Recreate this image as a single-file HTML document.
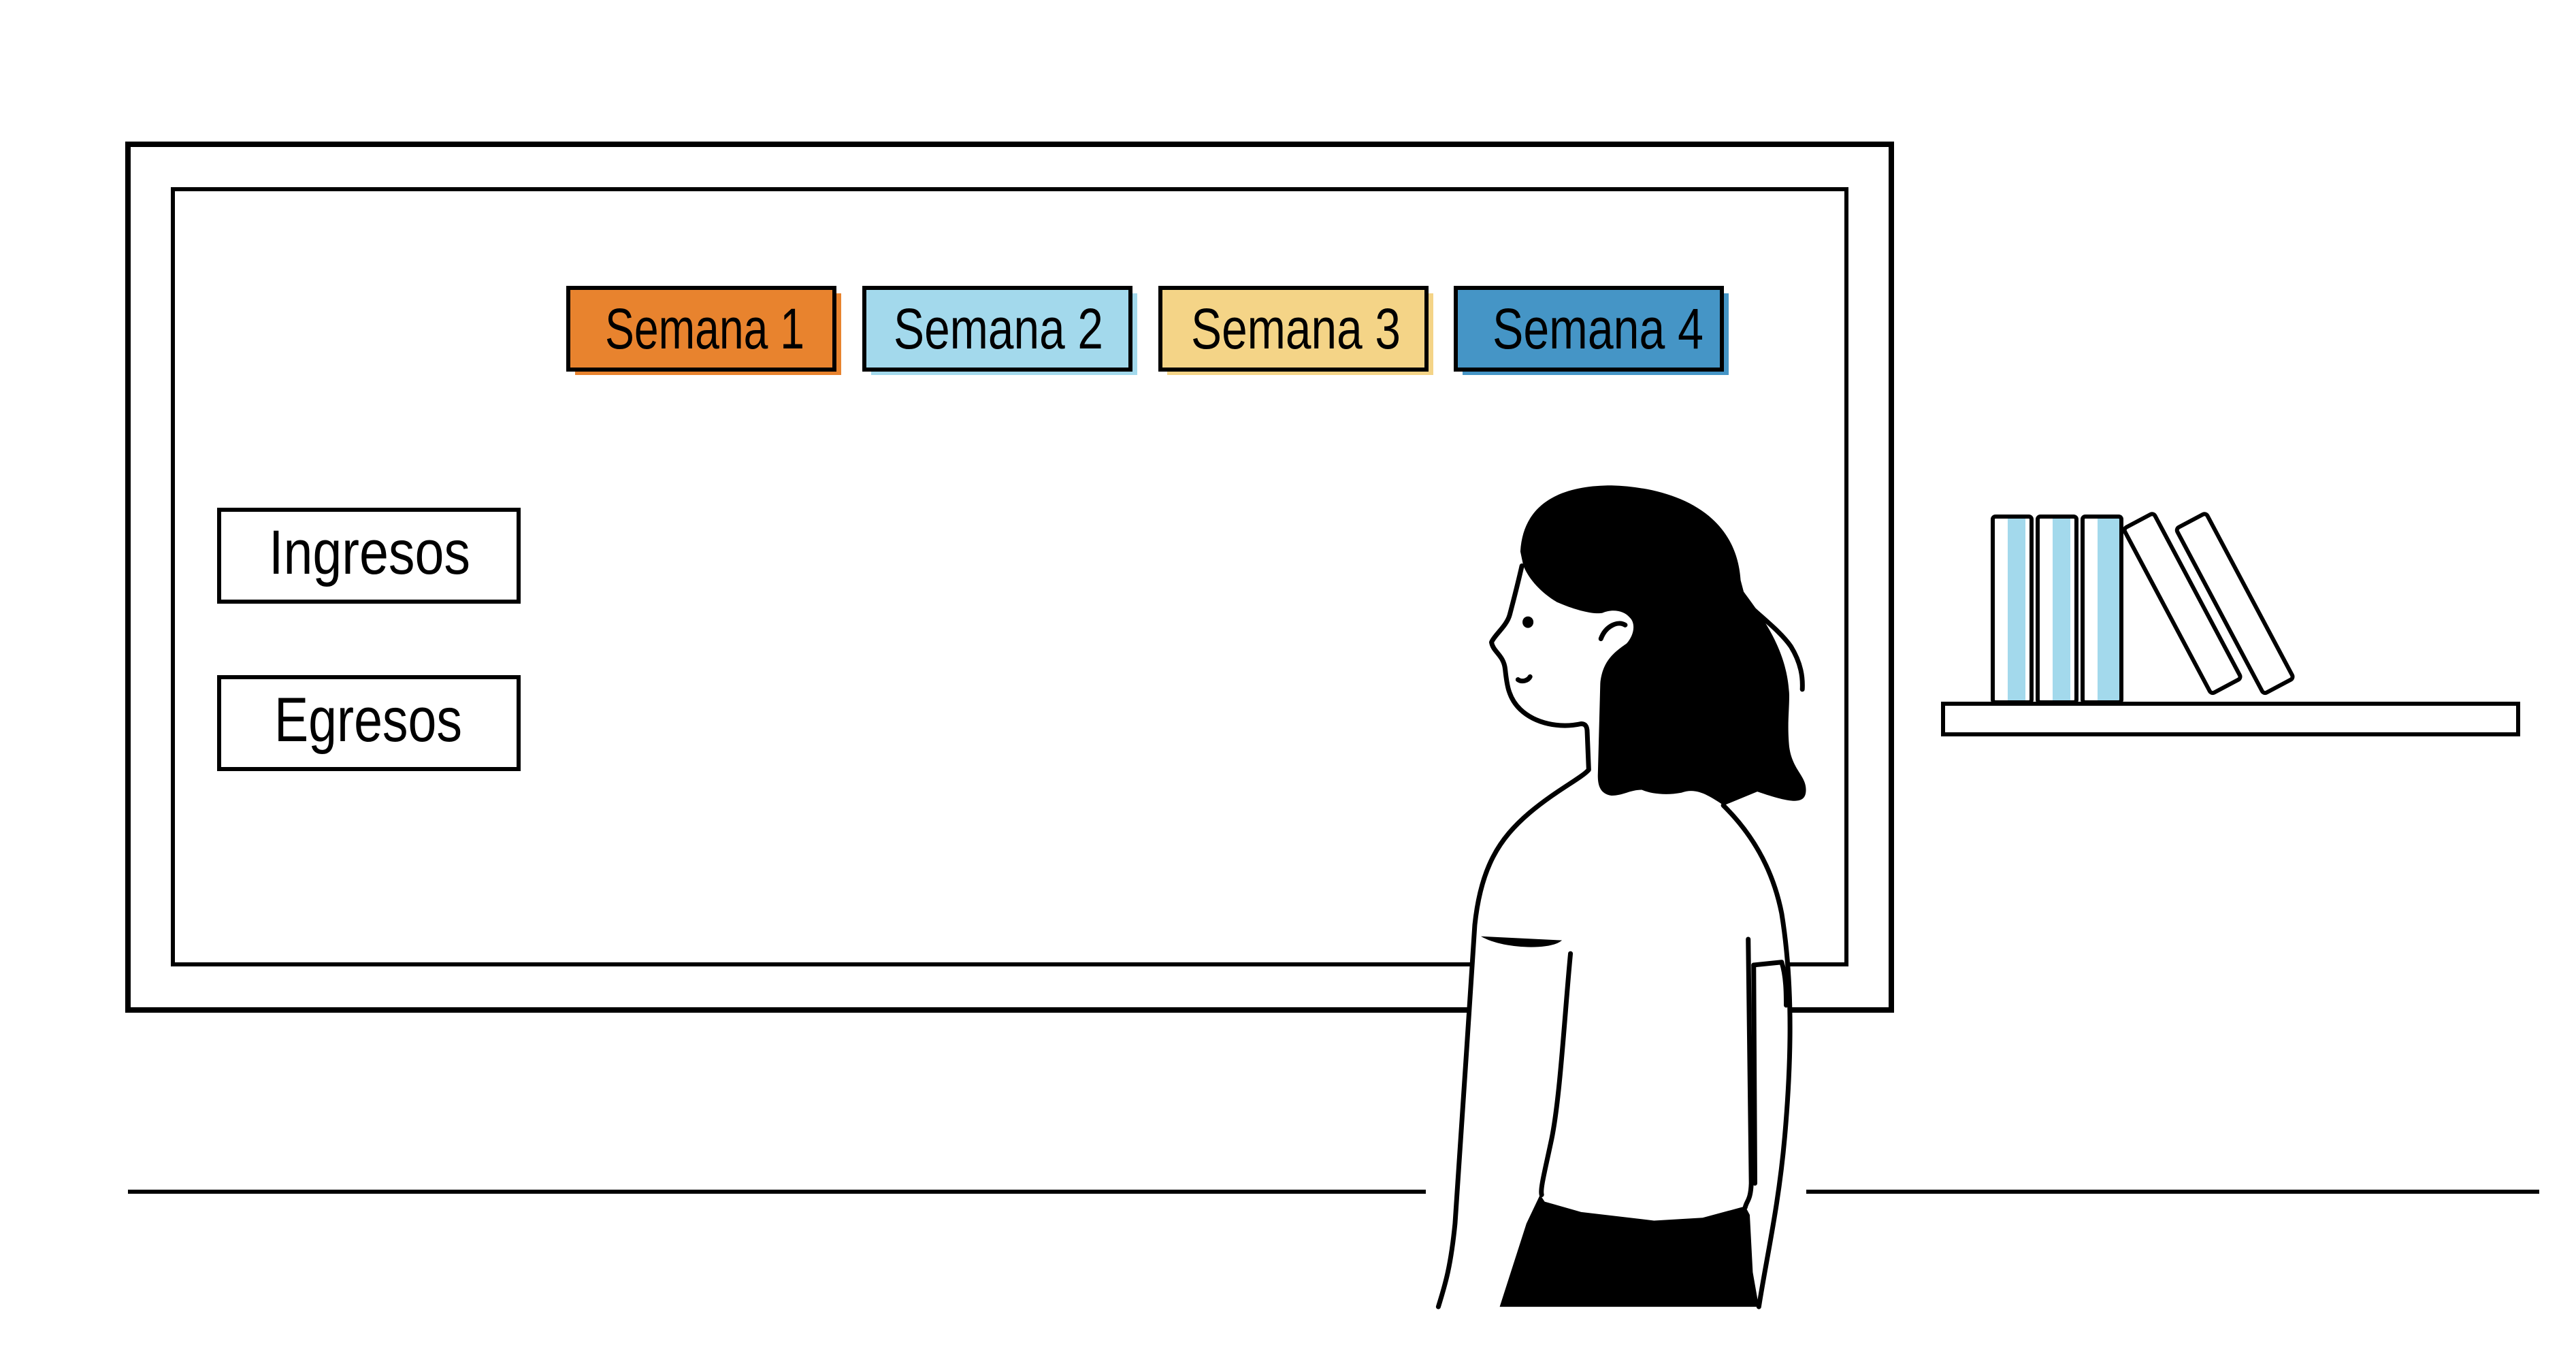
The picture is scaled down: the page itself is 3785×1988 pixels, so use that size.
<!DOCTYPE html>
<html><head><meta charset="utf-8"><style>
html,body{margin:0;padding:0;background:#fff;}
svg{display:block}
text{font-family:"Liberation Sans Narrow","Liberation Sans",sans-serif;fill:#000}
</style></head><body>
<svg width="3785" height="1988" viewBox="0 0 3785 1988" xmlns="http://www.w3.org/2000/svg">
<rect x="188" y="212" width="2591" height="1272" fill="none" stroke="#000" stroke-width="8"/>
<rect x="254" y="278" width="2459" height="1139" fill="none" stroke="#000" stroke-width="6"/>
<rect x="845" y="431" width="391" height="120" fill="#e8832e"/>
<rect x="835" y="423" width="391" height="120" fill="#e8832e" stroke="#000" stroke-width="6"/>
<text x="889" y="512" font-size="84" textLength="293" lengthAdjust="spacingAndGlyphs">Semana 1</text>
<rect x="1280" y="431" width="391" height="120" fill="#a3d9ec"/>
<rect x="1270" y="423" width="391" height="120" fill="#a3d9ec" stroke="#000" stroke-width="6"/>
<text x="1313" y="512" font-size="84" textLength="308" lengthAdjust="spacingAndGlyphs">Semana 2</text>
<rect x="1715" y="431" width="391" height="120" fill="#f4d487"/>
<rect x="1705" y="423" width="391" height="120" fill="#f4d487" stroke="#000" stroke-width="6"/>
<text x="1750" y="512" font-size="84" textLength="308" lengthAdjust="spacingAndGlyphs">Semana 3</text>
<rect x="2149" y="431" width="391" height="120" fill="#4595c6"/>
<rect x="2139" y="423" width="391" height="120" fill="#4595c6" stroke="#000" stroke-width="6"/>
<text x="2193" y="512" font-size="84" textLength="310" lengthAdjust="spacingAndGlyphs">Semana 4</text>
<rect x="322" y="749" width="440" height="135" fill="#fff" stroke="#000" stroke-width="6"/>
<text x="395" y="843" font-size="92" textLength="296" lengthAdjust="spacingAndGlyphs">Ingresos</text>
<rect x="322" y="995" width="440" height="135" fill="#fff" stroke="#000" stroke-width="6"/>
<text x="403" y="1089" font-size="92" textLength="276" lengthAdjust="spacingAndGlyphs">Egresos</text>
<line x1="188" y1="1751" x2="2095" y2="1751" stroke="#000" stroke-width="6"/>
<line x1="2654" y1="1751" x2="3731" y2="1751" stroke="#000" stroke-width="6"/>
<rect x="2950" y="757" width="26" height="275" fill="#a3d9ec"/>
<rect x="3016" y="757" width="26" height="275" fill="#a3d9ec"/>
<rect x="3082" y="757" width="36" height="275" fill="#a3d9ec"/>
<rect x="2928" y="759" width="57" height="273" rx="4" fill="none" stroke="#000" stroke-width="6"/>
<rect x="2994" y="759" width="57" height="273" rx="4" fill="none" stroke="#000" stroke-width="6"/>
<rect x="3060" y="759" width="57" height="273" rx="4" fill="none" stroke="#000" stroke-width="6"/>
<g transform="translate(3120,777) rotate(-28)"><rect x="0" y="0" width="50" height="275" rx="5" fill="#fff" stroke="#000" stroke-width="6"/></g>
<g transform="translate(3197,777) rotate(-28)"><rect x="0" y="0" width="50" height="275" rx="5" fill="#fff" stroke="#000" stroke-width="6"/></g>
<rect x="2855" y="1034" width="845" height="45" fill="#fff" stroke="#000" stroke-width="6"/>
<g transform="translate(2100,650) scale(0.4464,0.8439)">
  <path d="M515,490 L525,570 L400,620 L250,690 L180,750 L150,840 L130,1000 L90,1300 L60,1440 L30,1505 L1085,1505 L1110,1400 L1170,1200 L1190,1050 L1180,900 L1140,780 L1060,690 L970,632 L880,605 L560,600 L555,495 Z" fill="#fff"/>
  <path d="M365,1310 L380,1322 L500,1340 L740,1355 L900,1350 L1040,1330 L1055,1345 L1065,1445 L1085,1505 L232,1505 L320,1360 Z" fill="#000"/>
  <path d="M300,190 C310,100 450,75 600,75 C800,78 1010,120 1025,240 L1035,260 C1090,300 1180,360 1185,440 C1185,470 1178,490 1185,530 C1195,570 1240,580 1240,605 C1240,630 1200,630 1080,608 L970,632 C920,615 880,600 830,610 C780,615 730,612 700,605 C660,605 640,615 600,615 C560,612 555,595 555,580 L563,420 C570,380 610,365 650,350 C675,335 680,315 660,305 C640,292 600,290 570,297 C540,300 480,292 420,278 C370,262 330,240 310,215 Z" fill="#000"/>
  <g fill="none" stroke="#000" stroke-width="7" stroke-linecap="round" stroke-linejoin="round">
    <path vector-effect="non-scaling-stroke" d="M305,215 C290,250 275,280 265,300 C255,320 215,335 205,348 C210,365 245,370 250,395 C255,420 260,445 300,465 C350,490 430,498 500,490 C515,490 520,495 520,505 L525,570 C500,585 420,605 330,645 C230,690 170,740 150,840 C130,1000 100,1250 85,1360 C70,1440 50,1470 30,1505"/>
    <path vector-effect="non-scaling-stroke" d="M968,632 C1060,680 1130,740 1160,820 C1200,950 1190,1090 1170,1210 C1150,1330 1110,1420 1085,1505"/>
    <path vector-effect="non-scaling-stroke" d="M1050,865 L1060,1290 C1058,1320 1045,1320 1040,1332"/>
    <path vector-effect="non-scaling-stroke" d="M465,890 C445,1000 430,1150 400,1220 C380,1270 365,1300 370,1310"/>
    <path vector-effect="non-scaling-stroke" d="M1068,910 L1160,905 C1175,930 1175,960 1175,980"/>
    <path vector-effect="non-scaling-stroke" d="M1068,910 L1072,1290"/>
    <path vector-effect="non-scaling-stroke" d="M1022,268 C1080,300 1150,325 1190,355 C1225,385 1230,410 1228,430"/>
    <path vector-effect="non-scaling-stroke" d="M565,342 C580,320 620,310 645,318"/>
    <path vector-effect="non-scaling-stroke" d="M292,413 C305,418 325,415 332,408"/>
  </g>
  <path d="M170,860 L437,867 C400,885 240,882 170,860 Z" fill="#000"/>
  <ellipse cx="325" cy="313" rx="18" ry="10" fill="#000"/>
</g>
</svg>
</body></html>
